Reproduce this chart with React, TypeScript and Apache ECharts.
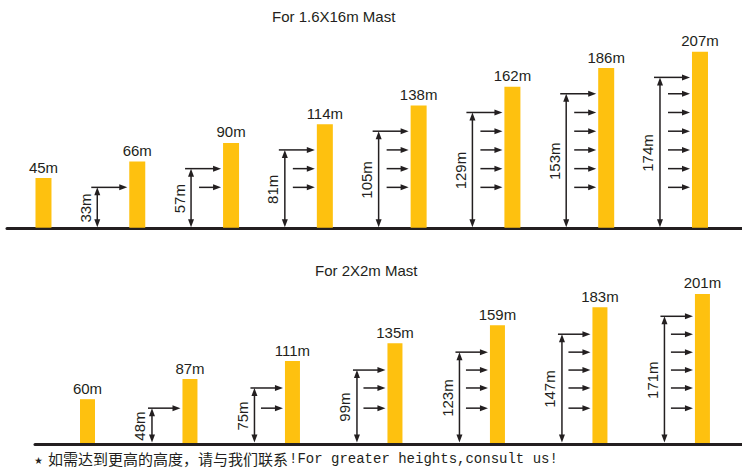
import React, { useEffect, useRef } from 'react';
import * as echarts from 'echarts';

// ---- data ----
const topTitle = 'For 1.6X16m Mast';
const bottomTitle = 'For 2X2m Mast';
const topMastHeights = [45, 66, 90, 114, 138, 162, 186, 207];
const topReachHeights = [33, 57, 81, 105, 129, 153, 174];
const bottomMastHeights = [60, 87, 111, 135, 159, 183, 201];
const bottomReachHeights = [48, 75, 99, 123, 147, 171];
const footStar = '★';
const footCN = '如需达到更高的高度，请与我们联系';
const footEN = '!For greater heights,consult us!';

// ---- styles ----
const BAR_COLOR = '#FEC10F';
const INK = '#231F20';
const LABEL_FONT = '15px "Liberation Sans", Arial, sans-serif';

type Cfg = { barW: number; vOff: number; topLead: number };

function makeRenderer(reach: number[], cfg: Cfg) {
  return (params: any, api: any) => {
    const i = api.value(0);
    const h = api.value(1);
    const cs = params.coordSys;
    const baseY = cs.y + cs.height;
    const pt = api.coord([i, h]);
    const cx = pt[0];
    const ty = pt[1];
    const left = cx - cfg.barW / 2;
    const children: any[] = [
      {
        type: 'rect',
        shape: { x: left, y: ty, width: cfg.barW, height: baseY - 1 - ty },
        style: { fill: BAR_COLOR },
      },
      {
        type: 'text',
        x: cx,
        y: ty - 11,
        style: {
          text: h + 'm',
          font: LABEL_FONT,
          fill: INK,
          textAlign: 'center',
          textVerticalAlign: 'middle',
        },
      },
    ];
    if (i >= 1) {
      const r = reach[i - 1];
      const vx = cx + cfg.vOff;
      const ry = api.coord([i, r])[1];
      const b = baseY - 1.5;
      // vertical double arrow
      children.push({
        type: 'line',
        shape: { x1: vx, y1: ry + 4, x2: vx, y2: b - 4 },
        style: { stroke: INK, lineWidth: 1.5 },
      });
      children.push({
        type: 'polygon',
        shape: { points: [[vx, ry], [vx - 3, ry + 8], [vx + 3, ry + 8]] },
        style: { fill: INK },
      });
      children.push({
        type: 'polygon',
        shape: { points: [[vx, b], [vx - 3, b - 8], [vx + 3, b - 8]] },
        style: { fill: INK },
      });
      // rotated reach label
      children.push({
        type: 'text',
        x: vx - 12,
        y: (ry + baseY) / 2,
        rotation: Math.PI / 2,
        style: {
          text: r + 'm',
          font: LABEL_FONT,
          fill: INK,
          textAlign: 'center',
          textVerticalAlign: 'middle',
        },
      });
      // horizontal arrows at each reachable level
      const tip = left - 2;
      for (let j = 0; j < i; j++) {
        const y = api.coord([i, reach[j]])[1];
        const start = j === i - 1 ? vx - cfg.topLead : left - 24;
        children.push({
          type: 'line',
          shape: { x1: start, y1: y, x2: tip - 6, y2: y },
          style: { stroke: INK, lineWidth: 1.5 },
        });
        children.push({
          type: 'polygon',
          shape: { points: [[tip, y], [tip - 8, y - 3], [tip - 8, y + 3]] },
          style: { fill: INK },
        });
      }
    }
    return { type: 'group', children };
  };
}

export default function App() {
  const ref = useRef<HTMLDivElement>(null);
  useEffect(() => {
    if (!ref.current) return;
    const chart = echarts.init(ref.current, null, { renderer: 'svg' });
    const titleStyle = {
      fontSize: 15,
      fontWeight: 'normal' as const,
      color: INK,
      fontFamily: '"Liberation Sans", Arial, sans-serif',
    };
    chart.setOption({
      animation: false,
      backgroundColor: '#ffffff',
      title: [
        { text: topTitle, left: 272, top: 9, padding: 0, textStyle: titleStyle },
        { text: bottomTitle, left: 315, top: 263, padding: 0, textStyle: titleStyle },
      ],
      grid: [
        { left: 7, right: 0, top: 41.5, bottom: 239.3 },
        { left: 35, right: 0, top: 279.7, bottom: 24 },
      ],
      xAxis: [
        {
          type: 'value',
          gridIndex: 0,
          min: -0.389,
          max: 7.448,
          axisLine: { show: true, onZero: false, lineStyle: { color: INK, width: 3 } },
          axisTick: { show: false },
          axisLabel: { show: false },
          splitLine: { show: false },
        },
        {
          type: 'value',
          gridIndex: 1,
          min: -0.512,
          max: 6.386,
          axisLine: { show: true, onZero: false, lineStyle: { color: INK, width: 3 } },
          axisTick: { show: false },
          axisLabel: { show: false },
          splitLine: { show: false },
        },
      ],
      yAxis: [
        { type: 'value', gridIndex: 0, min: -20, max: 220, show: false },
        { type: 'value', gridIndex: 1, min: 0, max: 220, show: false },
      ],
      series: [
        {
          type: 'custom',
          xAxisIndex: 0,
          yAxisIndex: 0,
          data: topMastHeights.map((h, i) => [i, h]),
          renderItem: makeRenderer(topReachHeights, { barW: 16, vOff: -40, topLead: 6 }),
          z: 1,
        },
        {
          type: 'custom',
          xAxisIndex: 1,
          yAxisIndex: 1,
          data: bottomMastHeights.map((h, i) => [i, h]),
          renderItem: makeRenderer(bottomReachHeights, { barW: 15, vOff: -38, topLead: 4 }),
          z: 1,
        },
      ],
      graphic: [
        {
          type: 'text',
          x: 38.5,
          y: 459,
          style: {
            text: footStar,
            font: '8px "Noto Sans CJK SC", sans-serif',
            fill: INK,
            textAlign: 'center',
            textVerticalAlign: 'middle',
          },
        },
        {
          type: 'text',
          x: 48,
          y: 458.5,
          style: {
            text: footCN,
            font: '15px "Noto Sans CJK SC", sans-serif',
            fill: INK,
            textAlign: 'left',
            textVerticalAlign: 'middle',
          },
        },
        {
          type: 'text',
          x: 289,
          y: 459,
          style: {
            text: footEN,
            font: '14px "Liberation Mono", monospace',
            fill: INK,
            textAlign: 'left',
            textVerticalAlign: 'middle',
          },
        },
      ],
    });
    return () => chart.dispose();
  }, []);
  return (
    <div
      ref={ref}
      style={{ position: 'fixed', left: 0, top: 0, width: 742, height: 468 }}
    />
  );
}
